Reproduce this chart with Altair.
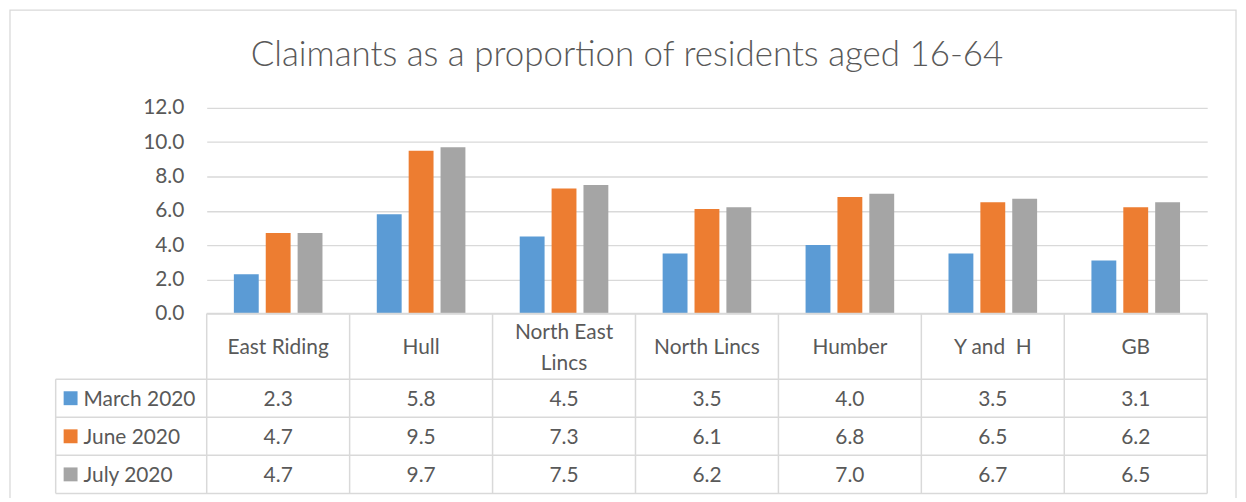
import altair as alt
import pandas as pd

title_text = "Claimants as a proportion of residents aged 16-64"
categories = ["East Riding", "Hull", "North East\nLincs", "North Lincs", "Humber", "Y and \u00a0H", "GB"]
series = ["March 2020", "June 2020", "July 2020"]
march_2020 = [2.3, 5.8, 4.5, 3.5, 4.0, 3.5, 3.1]
june_2020 = [4.7, 9.5, 7.3, 6.1, 6.8, 6.5, 6.2]
july_2020 = [4.7, 9.7, 7.5, 6.2, 7.0, 6.7, 6.5]
y_ticks = [0, 2, 4, 6, 8, 10, 12]
colors = ["#5B9BD5", "#ED7D31", "#A5A5A5"]

# layout (pixels, relative to the plot area)
W, H = 1007, 207
HEADER_H = 66
ROW_H = 38.33
LEG_LEFT = -152
LINE_H = 31
FONT = "Lato"
TXT = "#595959"
LINE = "#D9D9D9"

rows = []
for s, vals in zip(series, [march_2020, june_2020, july_2020]):
    for c, v in zip(categories, vals):
        rows.append({"category": c, "series": s, "value": v})
df = pd.DataFrame(rows)
cat_df = pd.DataFrame({
    "category": categories,
    "ypos": [H + HEADER_H / 2 - (c.count("\n")) * LINE_H / 2 for c in categories],
})
ser_df = pd.DataFrame({"series": series})

x_scale = alt.Scale(domain=categories, paddingInner=0.38, paddingOuter=0.19)
color_enc = alt.Color("series:N", scale=alt.Scale(domain=series, range=colors), legend=None)
row_top = H + HEADER_H
row_centers = [row_top + ROW_H * (i + 0.5) for i in range(len(series))]
row_y = alt.Y("series:N", scale=alt.Scale(domain=series, range=[row_centers[0], row_centers[-1]], type="point", padding=0), axis=None)

bars = alt.Chart(df).mark_bar().encode(
    x=alt.X("category:N", sort=categories, scale=x_scale, axis=None),
    xOffset=alt.XOffset("series:N", sort=series, scale=alt.Scale(domain=series, paddingInner=0.22, paddingOuter=0)),
    y=alt.Y("value:Q", scale=alt.Scale(domain=[0, 12], nice=False),
            axis=alt.Axis(values=y_ticks, format=".1f", title=None, domain=False, ticks=False,
                          labelFontSize=21, labelFont=FONT, labelColor=TXT, labelPadding=23,
                          grid=True, gridColor=LINE, gridWidth=1.3)),
    color=color_enc,
)

# table lines
table_bottom = row_top + ROW_H * len(series)
lines = []
for k in range(len(categories) + 1):
    lines.append({"x1": W * k / len(categories), "x2": W * k / len(categories), "y1": H, "y2": table_bottom})
lines.append({"x1": LEG_LEFT, "x2": LEG_LEFT, "y1": row_top, "y2": table_bottom})
lines.append({"x1": 0, "x2": W, "y1": H, "y2": H})
for i in range(len(series) + 1):
    yy = row_top + ROW_H * i
    lines.append({"x1": LEG_LEFT, "x2": W, "y1": yy, "y2": yy})
lines_df = pd.DataFrame(lines)

grid_lines = alt.Chart(lines_df).mark_rule(color=LINE, strokeWidth=1.5).encode(
    x=alt.X("x1:Q", scale=None), x2="x2:Q",
    y=alt.Y("y1:Q", scale=None), y2="y2:Q",
)

frame = alt.Chart(pd.DataFrame([{"x1": -198, "x2": 1036, "y1": -98.5, "y2": 430}])).mark_rect(
    fillOpacity=0, stroke=LINE, strokeWidth=1.3
).encode(
    x=alt.X("x1:Q", scale=None), x2="x2:Q",
    y=alt.Y("y1:Q", scale=None), y2="y2:Q",
)

header = alt.Chart(cat_df).mark_text(
    font=FONT, fontSize=21, color=TXT, lineBreak="\n", lineHeight=LINE_H, baseline="middle", align="center", dy=2
).encode(
    x=alt.X("category:N", sort=categories, scale=x_scale, axis=None),
    y=alt.Y("ypos:Q", scale=None),
    text="category:N",
)

values_txt = alt.Chart(df).mark_text(
    font=FONT, fontSize=21, color=TXT, baseline="middle", align="center", dy=2
).encode(
    x=alt.X("category:N", sort=categories, scale=x_scale, axis=None),
    y=row_y,
    text=alt.Text("value:Q", format=".1f"),
)

row_labels = alt.Chart(ser_df).mark_text(
    font=FONT, fontSize=21, color=TXT, baseline="middle", align="left", dy=2
).encode(
    x=alt.value(-124),
    y=row_y,
    text="series:N",
)

swatches = alt.Chart(ser_df).mark_square(size=196, opacity=1, filled=True).encode(
    x=alt.value(-137),
    y=row_y,
    color=color_enc,
)

title = alt.Chart(pd.DataFrame([{"t": title_text}])).mark_text(
    font=FONT, fontSize=35.1, fontWeight=300, color=TXT, baseline="alphabetic", align="center"
).encode(
    x=alt.value(423),
    y=alt.value(-42),
    text="t:N",
)

chart = alt.layer(frame, bars, grid_lines, header, values_txt, row_labels, swatches, title).resolve_scale(
    y="independent"
).properties(
    width=W, height=H,
    autosize=alt.AutoSizeParams(type="none"),
    padding={"left": 200, "top": 99, "right": 31, "bottom": 184},
).configure_view(stroke=None)

chart.save("out.html", embed_options={"renderer": "svg", "actions": False})
